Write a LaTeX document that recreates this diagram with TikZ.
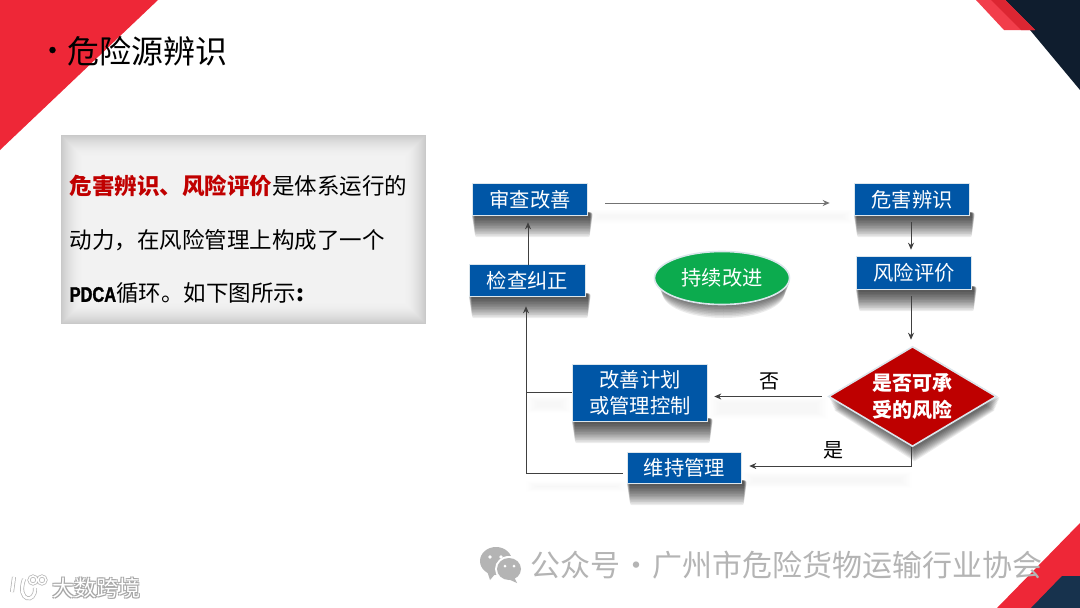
\documentclass[tikz,border=0pt]{standalone}
\usepackage{fontspec}
\setmainfont{Noto Sans CJK SC}
\newfontfamily\latinbold[FakeStretch=.78,FakeBold=1.5]{Liberation Sans}
\usetikzlibrary{arrows.meta,shapes.geometric,calc}
\definecolor{slidered}{HTML}{EE2737}
\definecolor{lightred}{HTML}{F23E4B}
\definecolor{midred}{HTML}{DC2632}
\definecolor{navy}{HTML}{0F1D2E}
\definecolor{teal}{HTML}{17324D}
\definecolor{boxblue}{HTML}{0056A6}
\definecolor{boxedge}{HTML}{DCE6EC}
\definecolor{dgreen}{HTML}{0CAB4E}
\definecolor{dred}{HTML}{BE0000}
\definecolor{textred}{HTML}{C00000}
\definecolor{wmgray}{HTML}{B4B4B4}
\pgfdeclarelayer{bg}
\pgfsetlayers{bg,main}
\newcommand{\fs}[1]{\fontsize{#1}{#1}\selectfont}
\tikzset{
  flowbox/.style={draw=boxedge,line width=1.6pt,fill=boxblue,text=white,inner sep=0pt,align=center,font=\fs{20.3}},
  conn/.style={draw=black!75,line width=.8pt},
  connarrow/.style={conn,-{Stealth[length=7pt,width=6pt]}},
}
% soft perspective shadow under a rectangular node
\newcommand{\softbox}[1]{%
  \begin{pgfonlayer}{bg}
  \foreach \d in {1,...,13}{
    \fill[black,opacity=.075,rounded corners=2pt]
      ([xshift={.25pt*\d},yshift=4pt]#1.south west) rectangle ([xshift={4.5pt-.22pt*\d},yshift={-1.6pt*\d}]#1.south east);
  }
  \end{pgfonlayer}}
\newcommand{\softline}[4]{%
  \begin{pgfonlayer}{bg}
  \foreach \d in {0,...,7}{
    \fill[black,opacity=.0045] ([xshift={1.5pt*\d},yshift={-#3pt-.8pt*\d}]#1) rectangle ([xshift={-1.5pt*\d},yshift={-#4pt+.8pt*\d}]#2);
  }
  \end{pgfonlayer}}
\begin{document}
\begin{tikzpicture}[x=1pt,y=-1pt]
\useasboundingbox (0,0) rectangle (1080,608);
\begin{pgfonlayer}{bg}
\fill[white] (0,0) rectangle (1080,608);
\end{pgfonlayer}
% corner shapes
\fill[slidered] (0,0) -- (158,0) -- (0,150) -- cycle;
\fill[navy] (1005,0) -- (1080,0) -- (1080,90) -- cycle;
\fill[lightred] (976,0) -- (1005,0) -- (1035,30) -- (1004,30) -- cycle;
\fill[midred] (991,0) -- (1005,0) -- (1035,30) -- (1021,30) -- cycle;
\fill[slidered] (1080,523) -- (1080,608) -- (997,608) -- cycle;
\fill[teal] (1062,576) -- (1080,576) -- (1080,608) -- (1031,608) -- cycle;
% title
\node[anchor=west,inner sep=0pt,font=\fs{32}] (title) at (67.5,51) {危险源辨识};
\node[anchor=center,circle,fill=black,inner sep=0pt,minimum size=6.5pt] (bullet) at (52.5,50) {};
% grey panel with inner shadow
\fill[white!79!black] (61,135) rectangle (426,324);
\foreach \i in {1,...,24}{
  \pgfmathsetmacro{\g}{95-16*(1-\i/24)*(1-\i/24)}
  \fill[color=white!\g!black] ({61+\i},{135+\i}) rectangle ({426-\i},{324-\i});
}
\node[anchor=north west,inner sep=0pt,align=left,font=\fontsize{22.5}{53.5}\selectfont] (panel) at (69.5,175)
  {{\color{textred}\bfseries 危害辨识、风险评价}是体系运行的\\动力，在风险管理上构成了一个\\{\fontsize{21}{53.5}\selectfont\latinbold\bfseries PDCA}循环。如下图所示{\bfseries:}};
% flow nodes
\node[flowbox,minimum width=115pt,minimum height=32pt] (review) at (530,199.5) {审查改善};
\node[flowbox,minimum width=116pt,minimum height=32pt] (check) at (527.5,280.5) {检查纠正};
\node[flowbox,minimum width=115pt,minimum height=32pt] (hazard) at (912,199.5) {危害辨识};
\node[flowbox,minimum width=115pt,minimum height=33pt] (risk) at (914,273) {风险评价};
\node[flowbox,minimum width=135pt,minimum height=57pt,font=\fontsize{20.3}{26}\selectfont] (plan) at (640,393) {改善计划\\或管理控制};
\node[flowbox,minimum width=114pt,minimum height=31pt] (maintain) at (684.5,468) {维持管理};
\node[ellipse,draw=boxedge,line width=1.6pt,fill=dgreen,text=white,inner sep=0pt,minimum width=135pt,minimum height=53pt,font=\fs{20.3}] (improve) at (722,278) {持续改进};
\node[diamond,draw=boxedge,line width=1.6pt,fill=dred,text=white,inner sep=0pt,shape aspect=1.67,minimum width=168pt,minimum height=100pt,align=center,font=\fontsize{20}{27}\selectfont\bfseries] (decide) at (912.5,396.5) {是否可承\\受的风险};
% shadows
\softbox{review}\softbox{check}\softbox{hazard}\softbox{risk}\softbox{plan}\softbox{maintain}
\begin{pgfonlayer}{bg}
\foreach \d in {1,...,10}{
  \fill[black,opacity=.08] ([xshift=1.5pt,yshift={-1.5pt*\d}]improve.center) ellipse ({67pt-.6pt*\d} and {25pt});
  \fill[black,opacity=.08] ($(decide.north)+({2+.5*\d},{1.4*\d})$) -- ($(decide.east)+({3-.6*\d},{1.4*\d})$) -- ($(decide.south)+({2+.0*\d},{1.4*\d})$) -- ($(decide.west)+({1+.6*\d},{1.4*\d})$) -- cycle;
}
\end{pgfonlayer}
% connectors
\coordinate (cornerup) at (526,473);
\coordinate (cornerplan) at (526,392);
\coordinate (cornerdec) at (911.5,466);
\draw[-{Stealth[length=7pt,width=6pt]},draw=black!55,line width=1pt] ([xshift=17pt,yshift=-3.5pt]review.east) -- ([xshift=-24pt,yshift=-3.5pt]hazard.west);
\draw[connarrow] ([xshift=.5pt,yshift=-1.5pt]check.north) -- ([xshift=-2pt,yshift=-6pt]review.south);
\draw[connarrow] (cornerup) -- ([xshift=-1.5pt,yshift=-9pt]check.south);
\draw[conn] (cornerplan) -- ([yshift=1pt]plan.west);
\draw[conn] (cornerup) -- ([xshift=-4pt,yshift=-5pt]maintain.west);
\draw[connarrow] ([xshift=-6pt]decide.west) -- ([xshift=6pt,yshift=-3.5pt]plan.east);
\draw[conn] ([xshift=-1pt]decide.south) -- (cornerdec);
\draw[connarrow] (cornerdec) -- ([xshift=7pt,yshift=2pt]maintain.east);
\draw[connarrow] ([xshift=-1pt,yshift=-6pt]hazard.south) -- ([xshift=-3pt,yshift=6pt]risk.north);
\draw[connarrow] ([xshift=-3pt,yshift=-6pt]risk.south) -- ([xshift=-1.5pt,yshift=6pt]decide.north);
% faint connector shadows
\softline{review.east}{hazard.west}{10}{24}
\softline{cornerplan}{plan.west}{4}{20}
\softline{cornerup}{maintain.west}{8}{24}
\softline{plan.east}{decide.west}{4}{22}
\softline{maintain.east}{cornerdec}{4}{22}
% labels
\node[inner sep=0pt,font=\fs{20}] (no) at (769,381) {否};
\node[inner sep=0pt,font=\fs{20}] (yes) at (833,450) {是};
% watermark
\fill[wmgray] (496,561) ellipse (16 and 14);
\fill[wmgray] (487,571) -- (490,580) -- (496,573) -- cycle;
\fill[white] (509,569) ellipse (14 and 13);
\fill[wmgray] (509,569) ellipse (12 and 11);
\fill[wmgray] (514,577) -- (517,583) -- (508,579) -- cycle;
\fill[white] (490,557) circle (1.8) (501,557) circle (1.8) (505,566) circle (1.5) (514,566) circle (1.5);
\node[anchor=west,inner sep=0pt,text=wmgray,font=\fs{30}] (wm) at (530,565) {公众号\hspace{1pt}·\hspace{1pt}广州市危险货物运输行业协会};
\foreach \dx/\dy in {.8/.8,-.8/.8,.8/-.8,-.8/-.8}{
  \node[anchor=west,inner sep=0pt,text=black!35,font=\fs{22}] at ({52+\dx},{588+\dy}) {大数跨境};
}
\node[anchor=west,inner sep=0pt,text=white,font=\fs{22}] (dskj) at (52,588) {大数跨境};
\draw[black!30,line width=4pt] (14,577) -- (12,592) (24,579) .. controls (16,602) and (36,604) .. (35,588);
\draw[black!30,line width=3pt] (33,580) circle (4) (42,580) circle (4);
\draw[white,line width=2.6pt] (14,577) -- (12,592) (24,579) .. controls (16,602) and (36,604) .. (35,588);
\draw[white,line width=1.6pt] (33,580) circle (4) (42,580) circle (4);
\end{tikzpicture}
\end{document}
